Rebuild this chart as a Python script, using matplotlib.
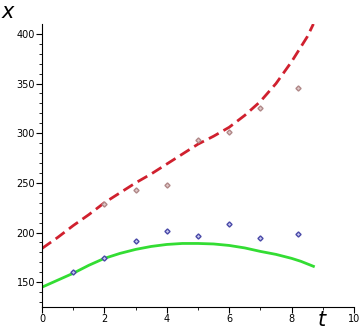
import matplotlib.pyplot as plt

# datos
t_pts = [1, 2, 3, 4, 5, 6, 7, 8.2]
x_blue = [160, 174, 191, 202, 197, 209, 195, 199]
t_red_pts = [2, 3, 4, 5, 6, 7, 8.2]
x_red_pts = [229, 243, 248, 293, 301, 325, 346]

t_curve = [0, 0.5, 1, 1.5, 2, 2.5, 3, 3.5, 4, 4.5, 5, 5.5, 6, 6.5, 7, 7.5, 8, 8.5, 8.7]
x_red_curve = [184, 195, 207, 218, 230, 240, 250, 259, 269, 279, 289, 297, 306, 318, 332, 350, 372, 397, 410]
t_green = [0, 0.5, 1, 1.5, 2, 2.5, 3, 3.5, 4, 4.5, 5, 5.5, 6, 6.5, 7, 7.5, 8, 8.3, 8.7]
x_green = [145, 152, 159, 167, 174, 179, 183, 186, 188, 189, 189, 188.5, 187, 184.5, 181, 178, 174, 171, 166]

fig = plt.figure(figsize=(3.59, 3.33), dpi=100)
ax = fig.add_axes([0.117, 0.078, 0.869, 0.85])

ax.plot(t_curve, x_red_curve, color='#d0202e', lw=2, dashes=(4, 2))
ax.plot(t_green, x_green, color='#33dd33', lw=2)
ax.plot(t_pts, x_blue, 'D', ms=2.6, mfc='#c8c8f0', mec='#4a4aa8', mew=1)
ax.plot(t_red_pts, x_red_pts, 'D', ms=2.6, mfc='#e0c8c8', mec='#b08888', mew=1)

ax.set_xlim(0, 10)
ax.set_ylim(125, 410)
ax.set_xticks([0, 2, 4, 6, 8, 10])
ax.set_xticks([1, 3, 5, 7, 9], minor=True)
ax.set_yticks([150, 200, 250, 300, 350, 400])
ax.set_yticks(range(130, 410, 10), minor=True)
ax.tick_params(labelsize=7, length=4, width=0.8, direction='out', pad=1)
ax.tick_params(which='minor', length=2, width=0.6)
for s in ['top', 'right']:
    ax.spines[s].set_visible(False)

fig.text(0.003, 0.965, 'x', fontsize=15, style='italic', va='center')
fig.text(0.885, 0.04, 't', fontsize=15, style='italic', va='center')

fig.savefig('out.png', dpi=100)
